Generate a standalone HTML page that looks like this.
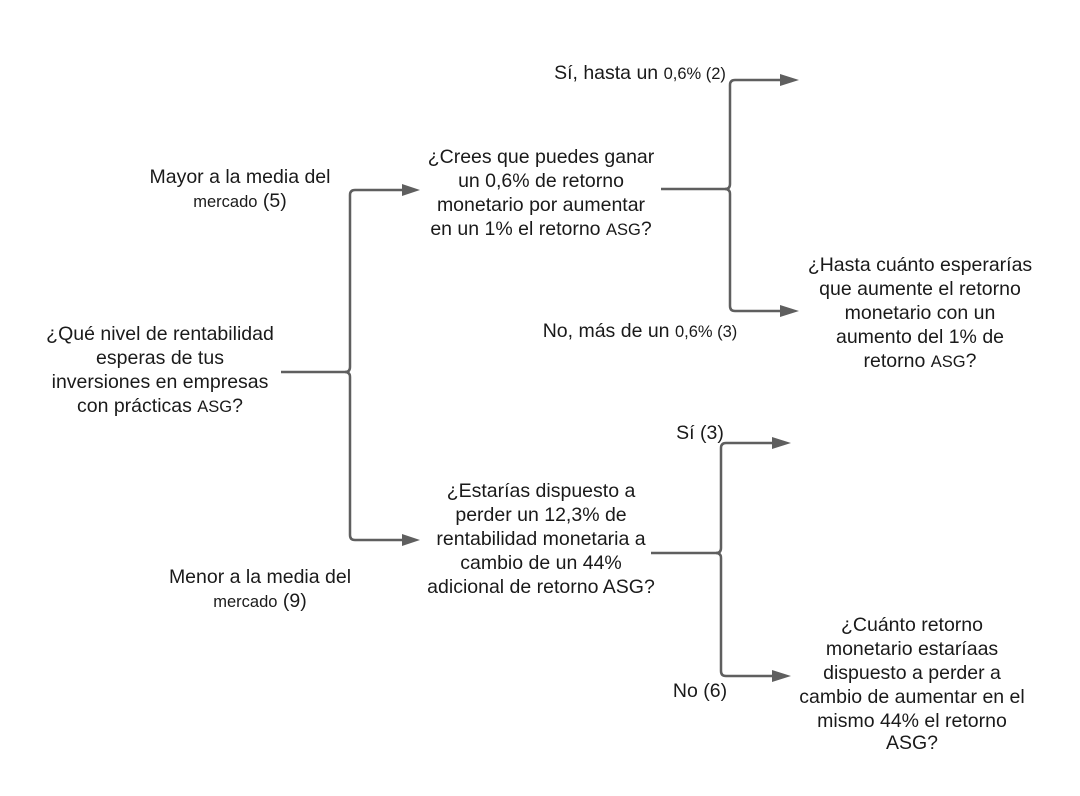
<!DOCTYPE html>
<html><head><meta charset="utf-8"><style>html,body{margin:0;padding:0;background:#fff}</style></head><body>
<svg width="1080" height="791" viewBox="0 0 1080 791" xmlns="http://www.w3.org/2000/svg" font-family="Liberation Sans, sans-serif" font-size="19.5" fill="#1a1a1a">
<rect width="1080" height="791" fill="#fff"/>
<g stroke="#5f5f5f" stroke-width="2.5" fill="none">
<path d="M281,372 H345 Q350,372 350,367 V195 Q350,190 355,190 H412"/>
<path d="M345,372 Q350,372 350,377 V535 Q350,540 355,540 H412"/>
<path d="M661,189 H725 Q730,189 730,184 V85 Q730,80 735,80 H790"/>
<path d="M725,189 Q730,189 730,194 V306 Q730,311 735,311 H790"/>
<path d="M651,553 H716 Q721,553 721,548 V448 Q721,443 726,443 H782"/>
<path d="M716,553 Q721,553 721,558 V671 Q721,676 726,676 H782"/>
</g>
<g fill="#5f5f5f">
<path d="M402,184 L420,190 L402,196z"/><path d="M402,534 L420,540 L402,546z"/>
<path d="M780,74 L799,80 L780,86z"/><path d="M780,305 L799,311 L780,317z"/>
<path d="M772,437 L791,443 L772,449z"/><path d="M772,670 L791,676 L772,682z"/>
</g>
<g text-anchor="middle">
<text x="160" y="340">¿Qué nivel de rentabilidad</text>
<text x="160" y="364">esperas de tus</text>
<text x="160" y="388">inversiones en empresas</text>
<text x="160" y="412">con prácticas <tspan font-size="16.5">ASG</tspan>?</text>
<text x="240" y="183">Mayor a la media del</text>
<text x="240" y="207"><tspan font-size="16.5">mercado</tspan> (5)</text>
<text x="260" y="583">Menor a la media del</text>
<text x="260" y="607"><tspan font-size="16.5">mercado</tspan> (9)</text>
<text x="541" y="163">¿Crees que puedes ganar</text>
<text x="541" y="187">un 0,6% de retorno</text>
<text x="541" y="211">monetario por aumentar</text>
<text x="541" y="235">en un 1% el retorno <tspan font-size="16.5">ASG</tspan>?</text>
<text x="541" y="497">¿Estarías dispuesto a</text>
<text x="541" y="521">perder un 12,3% de</text>
<text x="541" y="545">rentabilidad monetaria a</text>
<text x="541" y="569">cambio de un 44%</text>
<text x="541" y="593">adicional de retorno ASG?</text>
<text x="640" y="79">Sí, hasta un <tspan font-size="16.5">0,6% (2)</tspan></text>
<text x="640" y="337">No, más de un <tspan font-size="16.5">0,6% (3)</tspan></text>
<text x="920" y="271">¿Hasta cuánto esperarías</text>
<text x="920" y="295">que aumente el retorno</text>
<text x="920" y="319">monetario con un</text>
<text x="920" y="343">aumento del 1% de</text>
<text x="920" y="367">retorno <tspan font-size="16.5">ASG</tspan>?</text>
<text x="700" y="439">Sí (3)</text>
<text x="700" y="697">No (6)</text>
<text x="912" y="631">¿Cuánto retorno</text>
<text x="912" y="655">monetario estaríaas</text>
<text x="912" y="679">dispuesto a perder a</text>
<text x="912" y="703">cambio de aumentar en el</text>
<text x="912" y="727">mismo 44% el retorno</text>
<text x="912" y="749">ASG?</text>
</g>
</svg>
</body></html>
